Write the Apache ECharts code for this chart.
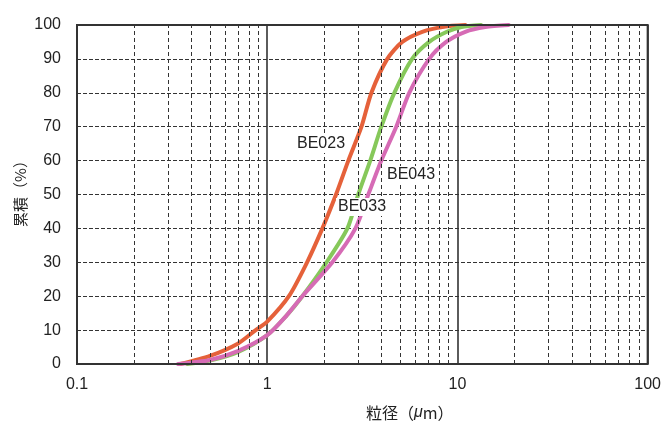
<!DOCTYPE html>
<html>
<head>
<meta charset="utf-8">
<script src="https://cdn.jsdelivr.net/npm/echarts@6/dist/echarts.min.js"></script>
<style>
  html, body { margin: 0; padding: 0; background: #fff; }
  #chart { width: 664px; height: 424px; }
</style>
</head>
<body>
<div id="chart"></div>
<script>
// Cumulative particle size distribution (log-scale particle size vs. cumulative %)
const seriesNames = ['BE023', 'BE033', 'BE043'];

const be023Size = [0.35, 0.5, 0.7, 0.87, 1.0, 1.3, 1.62, 1.95, 2.3, 2.67, 3.13, 3.53, 4.28, 5.13, 6.53, 8.5, 11];
const be023Cum  = [0, 2.4, 6, 10, 12.5, 20, 30, 40, 50, 60, 70, 80, 90, 95, 98, 99.5, 100];

const be033Size = [0.38, 0.5, 0.7, 1.0, 1.25, 1.53, 2.05, 2.64, 3.01, 3.48, 3.98, 4.66, 5.78, 7.1, 8.8, 10.5, 13.3];
const be033Cum  = [0, 1, 3.5, 8.5, 14, 20, 30, 40, 50, 60, 70, 80, 90, 95, 98, 99.4, 100];

const be043Size = [0.34, 0.5, 0.7, 1.0, 1.25, 1.53, 2.2, 2.91, 3.4, 3.98, 4.77, 5.58, 7.11, 8.73, 11, 14, 18.6];
const be043Cum  = [0, 1.2, 3.8, 8.5, 14, 20, 30, 40, 50, 60, 70, 80, 90, 95, 98, 99.4, 100];

const xTickLabels = ['0.1', '1', '10', '100'];
const yTicks = [0, 10, 20, 30, 40, 50, 60, 70, 80, 90, 100];

const colors = ['#E5613A', '#86C85A', '#D66BB5'];

function pairs(xs, ys) { return xs.map((x, i) => [x, ys[i]]); }

// dashed minor lines at 2..9 of each decade
const minorX = [];
[0.1, 1, 10].forEach(d => { for (let k = 2; k <= 9; k++) minorX.push(+(k * d).toPrecision(3)); });

const textFont = '"Liberation Sans", Arial, Helvetica, sans-serif';
const cjkFont = '"Noto Sans CJK JP", "Liberation Sans", sans-serif';

const chart = echarts.init(document.getElementById('chart'), null, { renderer: 'canvas' });

function lineSeries(name, data, color) {
  return {
    name: name, type: 'line', data: data, smooth: 0.25,
    showSymbol: false, symbol: 'none',
    lineStyle: { color: color, width: 4, cap: 'round', join: 'round' },
    z: 3
  };
}

const labelStyle = { fontFamily: textFont, fontSize: 16, fill: '#222', backgroundColor: '#fff', padding: [1, 2] };

chart.setOption({
  animation: false,
  backgroundColor: '#fff',
  grid: { left: 77, right: 15, top: 25, bottom: 60, show: true, borderColor: '#333', borderWidth: 2, backgroundColor: 'transparent', z: 4 },
  xAxis: {
    type: 'log', logBase: 10, min: 0.1, max: 100,
    axisLine: { show: false },
    axisTick: { show: false },
    axisLabel: {
      margin: 13, color: '#222', fontSize: 16, fontFamily: textFont,
      formatter: v => {
        const idx = Math.round(Math.log10(v)) + 1;
        return xTickLabels[idx] !== undefined ? xTickLabels[idx] : '';
      }
    },
    splitLine: { show: true, lineStyle: { color: '#333', width: 1.6, type: 'solid' } }
  },
  yAxis: {
    type: 'value', min: 0, max: 100, interval: 10,
    axisLine: { show: false },
    axisTick: { show: false },
    axisLabel: { margin: 16, color: '#222', fontSize: 16, fontFamily: textFont,
      formatter: v => yTicks.includes(v) ? String(v) : '' },
    splitLine: { show: true, lineStyle: { color: '#333', width: 1, type: [4, 2] } }
  },
  series: [
    {
      type: 'line', data: [], silent: true,
      markLine: {
        silent: true, symbol: 'none', label: { show: false },
        lineStyle: { color: '#333', width: 1, type: [4, 3] },
        data: minorX.map(v => ({ xAxis: v }))
      },
      z: 1
    },
    lineSeries(seriesNames[0], pairs(be023Size, be023Cum), colors[0]),
    lineSeries(seriesNames[1], pairs(be033Size, be033Cum), colors[1]),
    lineSeries(seriesNames[2], pairs(be043Size, be043Cum), colors[2])
  ],
  graphic: [
    { type: 'text', left: 295, top: 135, z: 10, style: Object.assign({ text: seriesNames[0] }, labelStyle) },
    { type: 'text', left: 336, top: 198, z: 10, style: Object.assign({ text: seriesNames[1] }, labelStyle) },
    { type: 'text', left: 385, top: 166, z: 10, style: Object.assign({ text: seriesNames[2] }, labelStyle) },
    {
      type: 'text', x: 20, y: 190, rotation: Math.PI / 2, z: 10,
      style: {
        text: '累積（%）', fontFamily: cjkFont, fontSize: 15, fill: '#222',
        align: 'center', verticalAlign: 'middle'
      }
    },
    {
      type: 'text', left: 366, top: 405, z: 10,
      style: {
        text: '{a|粒径（}{b|μ}{a|m）}',
        rich: {
          a: { fontFamily: cjkFont, fontSize: 16, fill: '#222' },
          b: { fontFamily: textFont, fontSize: 16, fontStyle: 'italic', fill: '#222' }
        }
      }
    }
  ]
});
</script>
</body>
</html>
